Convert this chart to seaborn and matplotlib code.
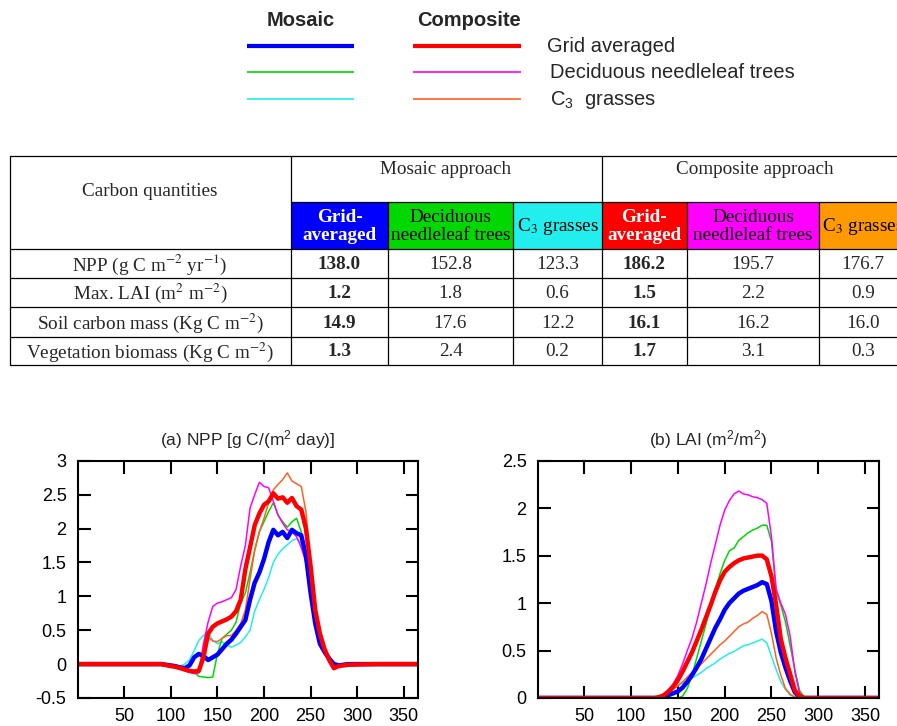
import matplotlib
matplotlib.use("Agg")
import matplotlib.pyplot as plt
from matplotlib.patches import Rectangle
import seaborn as sns

# ---- daily NPP (g C / m2 / day) ----
days_npp = [0, 50, 90, 100, 105, 110, 115, 120, 125, 130, 135, 140, 145, 150, 155, 160, 165, 170,
            175, 180, 185, 190, 195, 200, 205, 210, 215, 220, 225, 230, 235, 240, 245, 250, 255,
            260, 265, 270, 275, 280, 290, 320, 365]
npp_mos_grid = [0, 0, 0, -0.02, -0.03, -0.05, -0.06, -0.02, 0.1, 0.15, 0.12, 0.06, 0.1, 0.14, 0.22,
                0.3, 0.36, 0.45, 0.55, 0.65, 0.95, 1.2, 1.35, 1.55, 1.8, 1.98, 1.9, 1.95, 1.86, 1.98,
                1.93, 1.9, 1.6, 1.05, 0.6, 0.3, 0.18, 0.08, 0.0, -0.02, 0, 0, 0]
npp_mos_decid = [0, 0, 0, -0.03, -0.04, -0.05, -0.07, -0.1, -0.12, -0.18, -0.19, -0.2, -0.19, 0.15,
                 0.38, 0.44, 0.5, 0.62, 0.9, 1.05, 1.35, 1.68, 1.95, 2.1, 2.25, 2.38, 2.2, 2.1, 2.02,
                 2.1, 2.15, 1.95, 1.5, 1.0, 0.6, 0.32, 0.18, 0.06, -0.02, -0.02, 0, 0, 0]
npp_mos_c3 = [0, 0, 0, -0.02, -0.03, -0.03, 0.0, 0.06, 0.2, 0.35, 0.42, 0.48, 0.35, 0.3, 0.33, 0.28,
              0.25, 0.28, 0.32, 0.4, 0.5, 0.78, 0.95, 1.1, 1.28, 1.5, 1.62, 1.7, 1.76, 1.82, 1.85,
              1.78, 1.55, 1.05, 0.65, 0.35, 0.2, 0.12, 0.03, 0.0, 0, 0, 0]
npp_comp_grid = [0, 0, 0, -0.03, -0.04, -0.06, -0.08, -0.1, -0.11, -0.1, 0.1, 0.45, 0.55, 0.6, 0.63,
                 0.66, 0.7, 0.78, 0.95, 1.4, 1.72, 2.05, 2.22, 2.35, 2.4, 2.52, 2.44, 2.46, 2.38, 2.45,
                 2.33, 2.28, 2.0, 1.45, 0.8, 0.45, 0.22, 0.06, -0.06, -0.03, -0.01, 0, 0]
npp_comp_decid = [0, 0, 0, -0.03, -0.05, -0.07, -0.1, -0.12, -0.14, -0.13, 0.3, 0.62, 0.85, 0.9, 0.92,
                  0.95, 0.98, 1.1, 1.45, 1.75, 2.3, 2.5, 2.68, 2.62, 2.6, 2.4, 2.2, 2.08, 1.98, 1.95,
                  1.88, 1.72, 1.5, 1.0, 0.6, 0.3, 0.15, 0.05, -0.03, -0.02, 0, 0, 0]
npp_comp_c3 = [0, 0, 0, -0.03, -0.05, -0.06, -0.08, -0.1, -0.1, -0.08, 0.12, 0.4, 0.34, 0.33, 0.38,
               0.42, 0.42, 0.5, 0.6, 0.8, 1.25, 1.68, 1.95, 2.15, 2.38, 2.57, 2.65, 2.72, 2.82, 2.7,
               2.66, 2.62, 2.25, 1.45, 0.85, 0.5, 0.25, 0.08, -0.03, -0.03, 0, 0, 0]

# ---- daily LAI (m2/m2) ----
days_lai = [0, 100, 125, 130, 135, 140, 145, 150, 155, 160, 165, 170, 175, 180, 185, 190, 195, 200,
            205, 210, 215, 220, 225, 230, 235, 240, 245, 250, 255, 260, 265, 270, 275, 280, 285, 290, 365]
lai_mos_grid = [0, 0, 0, 0.0, 0.01, 0.03, 0.05, 0.07, 0.11, 0.17, 0.24, 0.32, 0.41, 0.52, 0.63, 0.74,
                0.83, 0.93, 1.0, 1.05, 1.1, 1.13, 1.15, 1.17, 1.19, 1.22, 1.2, 1.02, 0.7, 0.48, 0.32,
                0.18, 0.06, 0.01, 0, 0, 0]
lai_mos_decid = [0, 0, 0, 0, 0, 0, 0, 0, 0.02, 0.1, 0.24, 0.42, 0.6, 0.78, 0.97, 1.15, 1.31, 1.45,
                 1.55, 1.58, 1.66, 1.7, 1.74, 1.77, 1.79, 1.82, 1.82, 1.65, 1.12, 0.98, 0.8, 0.55, 0.3,
                 0.08, 0.01, 0, 0]
lai_mos_c3 = [0, 0, 0.0, 0.02, 0.04, 0.07, 0.1, 0.13, 0.16, 0.18, 0.21, 0.24, 0.27, 0.31, 0.34, 0.37,
              0.41, 0.44, 0.47, 0.49, 0.52, 0.55, 0.56, 0.58, 0.6, 0.62, 0.58, 0.44, 0.3, 0.17, 0.09,
              0.03, 0.01, 0, 0, 0, 0]
lai_comp_grid = [0, 0, 0.0, 0.01, 0.03, 0.07, 0.12, 0.19, 0.28, 0.38, 0.48, 0.6, 0.72, 0.85, 0.98,
                 1.12, 1.24, 1.33, 1.38, 1.42, 1.45, 1.47, 1.48, 1.49, 1.5, 1.5, 1.46, 1.28, 0.98,
                 0.62, 0.42, 0.25, 0.08, 0.02, 0.0, 0, 0]
lai_comp_decid = [0, 0, 0.0, 0.01, 0.04, 0.09, 0.15, 0.24, 0.36, 0.5, 0.63, 0.8, 1.0, 1.2, 1.42,
                  1.62, 1.82, 1.98, 2.08, 2.15, 2.18, 2.15, 2.14, 2.12, 2.11, 2.09, 2.05, 1.7, 1.15,
                  1.0, 0.88, 0.65, 0.28, 0.05, 0.01, 0, 0]
lai_comp_c3 = [0, 0, 0, 0.01, 0.02, 0.05, 0.09, 0.13, 0.17, 0.22, 0.27, 0.32, 0.36, 0.41, 0.46, 0.51,
               0.56, 0.6, 0.65, 0.7, 0.75, 0.78, 0.8, 0.84, 0.87, 0.91, 0.88, 0.68, 0.42, 0.24, 0.1,
               0.04, 0.01, 0, 0, 0, 0]

# ---- table ----
quantities = ["NPP (g C m$^{-2}$ yr$^{-1}$)", "Max. LAI (m$^{2}$ m$^{-2}$)",
              "Soil carbon mass (Kg C m$^{-2}$)", "Vegetation biomass (Kg C m$^{-2}$)"]
tab_mos_grid = ["138.0", "1.2", "14.9", "1.3"]
tab_mos_decid = ["152.8", "1.8", "17.6", "2.4"]
tab_mos_c3 = ["123.3", "0.6", "12.2", "0.2"]
tab_comp_grid = ["186.2", "1.5", "16.1", "1.7"]
tab_comp_decid = ["195.7", "2.2", "16.2", "3.1"]
tab_comp_c3 = ["176.7", "0.9", "16.0", "0.3"]

BLUE, GREEN, CYAN = "#0000ff", "#00d800", "#22eeee"
RED, MAGENTA, ORANGE = "#ff0000", "#ff00ff", "#ff6020"

sns.set_theme(style="ticks")
plt.rcParams['font.family'] = ['Liberation Sans', 'DejaVu Sans']
plt.rcParams['axes.unicode_minus'] = False
plt.rcParams['mathtext.fontset'] = 'custom'
plt.rcParams['mathtext.rm'] = 'Liberation Sans'
plt.rcParams['mathtext.it'] = 'Liberation Sans:italic'
plt.rcParams['mathtext.bf'] = 'Liberation Sans:bold'

fig = plt.figure(figsize=(8.97, 7.26), dpi=100)
SERIF = ['Liberation Serif', 'DejaVu Serif']
TFS = 13.8

# overlay in pixel coordinates for legend and table
ov = fig.add_axes([0, 0, 1, 1])
ov.set_xlim(0, 897)
ov.set_ylim(726, 0)
ov.axis('off')

# legend block
ov.text(301, 20, "Mosaic", ha="center", va="center", fontsize=14.5, fontweight="bold")
ov.text(469, 20, "Composite", ha="center", va="center", fontsize=14.5, fontweight="bold")
leg_rows = [(46, BLUE, RED, 3.0, "Grid averaged", 547),
            (72, GREEN, MAGENTA, 1.2, "Deciduous needleleaf trees", 550),
            (99, CYAN, ORANGE, 1.2, "C$_3$  grasses", 550)]
for y, cm, cc, lw, lab, xl in leg_rows:
    ov.plot([247, 354], [y, y], color=cm, lw=lw, solid_capstyle="butt")
    ov.plot([413, 521], [y, y], color=cc, lw=lw, solid_capstyle="butt")
    ov.text(xl, y + 1, lab, ha="left", va="center", fontsize=14.5)

# table
top, sub, r0, bot = 156, 202, 249, 365
row_lines = [249, 278, 307, 337]
col_x = [291, 388, 513, 602, 687, 819, 907]
head_cols = [BLUE, GREEN, CYAN, RED, MAGENTA, "#ff9900"]
head_txt = ["Grid-\naveraged", "Deciduous\nneedleleaf trees", "C$_3$ grasses",
            "Grid-\naveraged", "Deciduous\nneedleleaf trees", "C$_3$ grasses"]
for i in range(6):
    ov.add_patch(Rectangle((col_x[i], sub), col_x[i + 1] - col_x[i], r0 - sub,
                           facecolor=head_cols[i], edgecolor="none", clip_on=True))
    bold = i in (0, 3)
    ov.text((col_x[i] + col_x[i + 1]) / 2, (sub + r0) / 2 + 1, head_txt[i], ha="center",
            va="center", fontsize=TFS, family=SERIF, math_fontfamily="stix",
            fontweight="bold" if bold else "normal", color="white" if bold else "black",
            linespacing=1.0, clip_on=True)
lk = dict(color="black", lw=0.9, clip_on=True)
ov.plot([10, 910, 910, 10, 10], [top, top, bot, bot, top], **lk)
ov.plot([291, 291], [top, bot], **lk)
ov.plot([602, 602], [top, bot], **lk)
ov.plot([291, 910], [sub, sub], **lk)
for cx in [388, 513, 687, 819]:
    ov.plot([cx, cx], [sub, bot], **lk)
for ry in row_lines:
    ov.plot([10, 910], [ry, ry], **lk)
ov.text(150, 191, "Carbon quantities", ha="center", va="center", fontsize=TFS, family=SERIF)
ov.text(446, 169, "Mosaic approach", ha="center", va="center", fontsize=TFS, family=SERIF)
ov.text(755, 169, "Composite approach", ha="center", va="center", fontsize=TFS, family=SERIF)
cols = [tab_mos_grid, tab_mos_decid, tab_mos_c3, tab_comp_grid, tab_comp_decid, tab_comp_c3]
for r in range(4):
    yc = (row_lines[r] + (row_lines[r + 1] if r < 3 else bot)) / 2 + 1
    ov.text(150, yc, quantities[r], ha="center", va="center", fontsize=TFS, family=SERIF,
            math_fontfamily="stix")
    for i, col in enumerate(cols):
        ov.text((col_x[i] + col_x[i + 1]) / 2, yc, col[r], ha="center", va="center",
                fontsize=TFS, family=SERIF, fontweight="bold" if i in (0, 3) else "normal",
                clip_on=True)

# line panels
ax1 = fig.add_axes([77.7 / 897, 28 / 726, 340 / 897, 237.3 / 726])
ax2 = fig.add_axes([537.7 / 897, 28 / 726, 341.3 / 897, 237.3 / 726])

npp_series = [(npp_mos_c3, CYAN, 1.1), (npp_mos_decid, GREEN, 1.1), (npp_comp_decid, MAGENTA, 1.1),
              (npp_comp_c3, ORANGE, 1.1), (npp_mos_grid, BLUE, 3.2), (npp_comp_grid, RED, 3.2)]
for vals, c, lw in npp_series:
    sns.lineplot(x=days_npp, y=vals, color=c, lw=lw, ax=ax1)
lai_series = [(lai_mos_c3, CYAN, 1.1), (lai_mos_decid, GREEN, 1.1), (lai_comp_decid, MAGENTA, 1.1),
              (lai_comp_c3, ORANGE, 1.1), (lai_mos_grid, BLUE, 3.2), (lai_comp_grid, RED, 3.2)]
for vals, c, lw in lai_series:
    sns.lineplot(x=days_lai, y=vals, color=c, lw=lw, ax=ax2)

ax1.set_ylim(-0.5, 3)
ax1.set_yticks([-0.5, 0, 0.5, 1, 1.5, 2, 2.5, 3])
ax2.set_ylim(0, 2.5)
ax2.set_yticks([0, 0.5, 1, 1.5, 2, 2.5])
ax1.set_title("(a) NPP [g C/(m$^2$ day)]", fontsize=12.5, pad=11)
ax2.set_title("(b) LAI (m$^2$/m$^2$)", fontsize=12.5, pad=11)
for ax in (ax1, ax2):
    ax.set_xlim(0, 365)
    ax.set_xticks([50, 100, 150, 200, 250, 300, 350])
    ax.yaxis.set_major_formatter(matplotlib.ticker.FormatStrFormatter('%g'))
    ax.tick_params(direction="in", length=9, width=1.5, top=True, right=True,
                   labelsize=13, colors="black")
    ax.tick_params(axis="y", pad=8)
    ax.tick_params(axis="x", pad=7)
    for s in ax.spines.values():
        s.set_linewidth(1.5)
        s.set_color("black")
    ax.set_xlabel("")
    ax.set_ylabel("")

fig.savefig("out.png", dpi=100)
